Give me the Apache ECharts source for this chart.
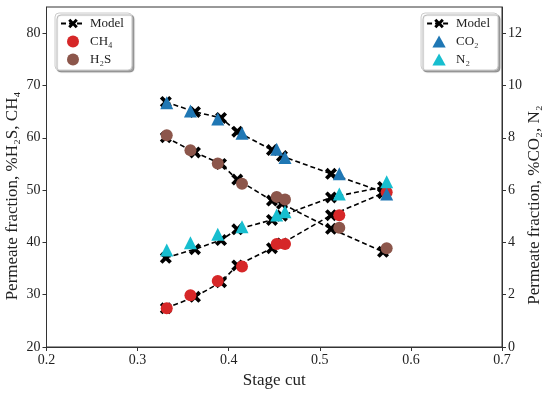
<!DOCTYPE html>
<html>
<head>
<meta charset="utf-8">
<script src="https://cdn.jsdelivr.net/npm/echarts@6/dist/echarts.min.js"></script>
<style>html,body{margin:0;padding:0;background:#fff}#c{width:550px;height:393px}</style>
</head>
<body>
<div id="c"></div>
<script>
// Experimental stage cuts
const stageCut = [0.332, 0.358, 0.388, 0.4146, 0.4527, 0.4618, 0.5214, 0.5734];
// Model stage cuts
const modelCut = [0.331, 0.363, 0.3916, 0.4094, 0.4475, 0.4585, 0.5123, 0.5694];

// Left axis (%): H2S, CH4
const h2sData  = [60.5, 57.6, 55.1, 51.2, 48.7, 48.2, 42.8, 38.9];
const h2sModel = [60.1, 57.2, 55.0, 52.0, 48.0, 47.4, 42.6, 38.2];
const ch4Data  = [27.4, 29.9, 32.6, 35.4, 39.7, 39.7, 45.2, 49.6];
const ch4Model = [27.4, 29.6, 32.4, 35.6, 38.9, 39.8, 45.2, 49.4];

// Right axis (%): CO2, N2
const co2Data  = [9.34, 9.02, 8.72, 8.17, 7.56, 7.25, 6.62, 5.85];
const co2Model = [9.37, 8.99, 8.76, 8.23, 7.53, 7.30, 6.62, 5.93];
const n2Data   = [3.71, 3.99, 4.31, 4.60, 5.05, 5.17, 5.85, 6.32];
const n2Model  = [3.41, 3.74, 4.09, 4.50, 4.86, 5.02, 5.72, 6.12];

const xTicks = [0.2, 0.3, 0.4, 0.5, 0.6, 0.7];
const leftTicks = [20, 30, 40, 50, 60, 70, 80];
const rightTicks = [0, 2, 4, 6, 8, 10, 12];

const pair = (xs, ys) => xs.map((x, i) => [x, ys[i]]);
const XPATH = 'path://M0.22,0 L0.5,0.28 L0.78,0 L1,0.22 L0.72,0.5 L1,0.78 L0.78,1 L0.5,0.72 L0.22,1 L0,0.78 L0.28,0.5 L0,0.22 Z';
const TRI = 'path://M0.5,0 L1,0.9 L0,0.9 Z';
const FONT = 'Liberation Serif';

function modelSeries(ys, yIdx) {
  return {
    name: 'Model', type: 'line', yAxisIndex: yIdx,
    data: pair(modelCut, ys),
    symbol: XPATH, symbolSize: 12,
    itemStyle: { color: '#000' },
    lineStyle: { color: '#000', width: 1.6, type: [5, 3] },
    z: 2, animation: false
  };
}
function dataSeries(name, ys, yIdx, color, symbol, size) {
  return {
    name: name, type: 'scatter', yAxisIndex: yIdx,
    data: pair(stageCut, ys),
    symbol: symbol, symbolSize: size,
    itemStyle: { color: color, opacity: 1 },
    z: 3, animation: false
  };
}

const legendCommon = {
  orient: 'vertical',
  backgroundColor: '#fff',
  borderColor: '#cccccc', borderWidth: 1, borderRadius: 4,
  shadowColor: 'rgba(0,0,0,0.35)', shadowOffsetX: 2, shadowOffsetY: 2, shadowBlur: 1,
  padding: [4, 8, 4, 5],
  itemWidth: 24, itemHeight: 12, itemGap: 5,
  symbolKeepAspect: true,
  textStyle: { fontFamily: FONT, fontSize: 13, color: '#222' }
};

const chart = echarts.init(document.getElementById('c'));
chart.setOption({
  animation: false,
  grid: { left: 46.5, right: 48, top: 7, bottom: 46, show: true, borderColor: '#333', borderWidth: 1,
          containLabel: false, outerBoundsMode: 'none' },
  legend: [
    Object.assign({}, legendCommon, { left: 55, top: 13, data: ['Model', 'CH₄', 'H₂S'] }),
    Object.assign({}, legendCommon, { right: 52, top: 13,
      data: ['Model', { name: 'CO₂', icon: TRI }, { name: 'N₂', icon: TRI }] })
  ],
  xAxis: {
    type: 'value', min: 0.2, max: 0.7, interval: 0.1,
    name: 'Stage cut', nameLocation: 'middle', nameGap: 25,
    nameTextStyle: { fontFamily: FONT, fontSize: 17, color: '#222' },
    axisLine: { show: true, lineStyle: { color: '#333', width: 1 } },
    axisTick: { show: true, inside: false, length: 4, lineStyle: { color: '#333' } },
    axisLabel: { fontFamily: FONT, fontSize: 14, color: '#222', margin: 6, formatter: v => v.toFixed(1) },
    splitLine: { show: false }
  },
  yAxis: [
    {
      type: 'value', position: 'left', min: 20, max: 85,
      name: 'Permeate fraction, %H₂S, CH₄', nameLocation: 'middle', nameGap: 25, nameRotate: 90,
      nameMoveOverlap: false,
      nameTextStyle: { fontFamily: FONT, fontSize: 17, color: '#222', padding: [0, 38, 0, 0] },
      axisLine: { show: true, lineStyle: { color: '#333', width: 1 } },
      axisTick: { show: true, length: 4, customValues: leftTicks, lineStyle: { color: '#333' } },
      axisLabel: { fontFamily: FONT, fontSize: 14, color: '#222', margin: 6, customValues: leftTicks },
      splitLine: { show: false }
    },
    {
      type: 'value', position: 'right', min: 0, max: 13,
      name: 'Permeate fraction, %CO₂, N₂', nameLocation: 'middle', nameGap: 24, nameRotate: 90,
      nameMoveOverlap: false,
      nameTextStyle: { fontFamily: FONT, fontSize: 17, color: '#222', padding: [0, 56, 0, 0] },
      axisLine: { show: true, lineStyle: { color: '#333', width: 1 } },
      axisTick: { show: true, length: 4, customValues: rightTicks, lineStyle: { color: '#333' } },
      axisLabel: { fontFamily: FONT, fontSize: 14, color: '#222', margin: 6, customValues: rightTicks },
      splitLine: { show: false }
    }
  ],
  series: [
    modelSeries(h2sModel, 0),
    modelSeries(ch4Model, 0),
    modelSeries(co2Model, 1),
    modelSeries(n2Model, 1),
    dataSeries('CH₄', ch4Data, 0, '#d62728', 'circle', 12),
    dataSeries('H₂S', h2sData, 0, '#8c564b', 'circle', 12),
    dataSeries('CO₂', co2Data, 1, '#1f77b4', TRI, 13),
    dataSeries('N₂', n2Data, 1, '#17becf', TRI, 13)
  ]
});
</script>
</body>
</html>
